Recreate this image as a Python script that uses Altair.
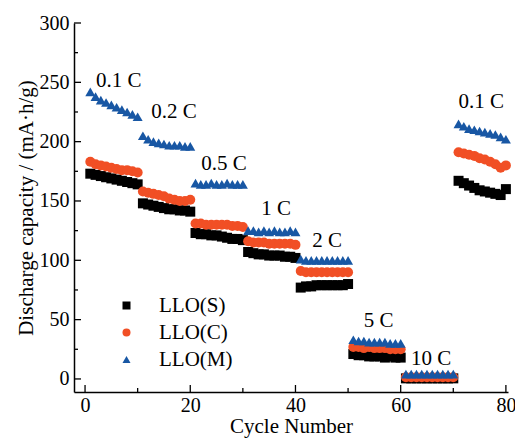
import altair as alt
import pandas as pd

# ---------------- data ----------------
cycles = list(range(1, 81))

llo_s = [173, 172, 171, 170, 169, 168, 167, 166, 165, 164,
         148, 147, 146, 145, 144, 143, 143, 142, 142, 141,
         123, 122, 122, 121, 121, 120, 119, 118, 118, 117,
         107, 106, 105, 105, 104, 104, 104, 103, 103, 102,
         77, 78, 78, 79, 79, 79, 79, 79, 79, 80,
         21, 20, 20, 19, 19, 19, 18, 19, 18, 18,
         0.5, 0.5, 0.5, 0.5, 0.5, 0.5, 0.5, 0.5, 0.5, 0.5,
         167, 165, 163, 161, 159, 158, 157, 156, 155, 160]

llo_c = [183, 181, 180, 179, 178, 177, 176, 176, 175, 174,
         158, 157, 156, 155, 154, 152, 151, 150, 150, 151,
         131, 131, 130, 130, 130, 130, 130, 129, 129, 128,
         116, 115, 115, 115, 114, 114, 114, 114, 114, 113,
         91, 90, 90, 90, 90, 90, 90, 90, 90, 90,
         27, 27, 26, 27, 26, 26, 26, 25, 25, 25,
         1.5, 1.5, 1.5, 1.5, 1.5, 1.5, 1.5, 1.5, 1.5, 1.5,
         191, 190, 189, 188, 186, 185, 183, 181, 178, 180]

llo_m = [242, 238, 235, 233, 231, 229, 227, 225, 223, 221,
         205, 202, 200, 199, 198, 197, 197, 197, 196, 196,
         165, 164, 164, 165, 164, 164, 165, 164, 164, 164,
         125, 125, 124, 125, 124, 125, 124, 124, 125, 124,
         101, 100, 100, 100, 100, 100, 100, 100, 100, 100,
         33, 32, 32, 31, 31, 31, 31, 30, 30, 30,
         4, 4, 4, 4, 4, 4, 4, 4, 4, 4,
         215, 213, 211, 210, 209, 208, 207, 206, 204, 202]

series_names = ["LLO(S)", "LLO(C)", "LLO(M)"]
series_colors = ["#000000", "#F14F25", "#1857A4"]
series_shapes = ["square", "circle", "triangle-up"]

rate_labels = ["0.1 C", "0.2 C", "0.5 C", "1 C", "2 C", "5 C", "10 C", "0.1 C"]
rate_label_x = [6.4, 16.9, 26.4, 36.3, 46.0, 55.8, 65.8, 75.3]
rate_label_y = [251, 225, 181, 143, 116.5, 49, 17, 233]

x_major = [0, 20, 40, 60, 80]
x_minor = [10, 30, 50, 70]
y_major = [0, 50, 100, 150, 200, 250, 300]
y_minor = [25, 75, 125, 175, 225, 275]

X_TITLE = "Cycle Number"
Y_TITLE = "Discharge capacity / (mA\u00b7h/g)"

# ---------------- tables ----------------
rows = []
for name, vals in zip(series_names, [llo_s, llo_c, llo_m]):
    for c, v in zip(cycles, vals):
        rows.append({"cycle": c, "capacity": v, "sample": name})
df = pd.DataFrame(rows)
df_lab = pd.DataFrame({"label": rate_labels, "x": rate_label_x, "y": rate_label_y})

W, H = 434, 369
FONT = "Liberation Serif"
FS = 21

xscale = alt.Scale(domain=[-2.1, 80.4], nice=False, zero=False)
yscale = alt.Scale(domain=[-11, 300], nice=False, zero=False)
xaxis = alt.Axis(values=x_major, format="d", labelPadding=3, titlePadding=0)
yaxis = alt.Axis(values=y_major, format="d", labelPadding=5, titlePadding=3)


def X(field):
    return alt.X(field, scale=xscale, axis=xaxis, title=X_TITLE)


def Y(field):
    return alt.Y(field, scale=yscale, axis=yaxis, title=Y_TITLE)


points = alt.Chart(df).transform_calculate(
    o="datum.sample == 'LLO(S)' ? 0 : (datum.sample == 'LLO(C)' ? 1 : 2)"
).mark_point(filled=True, size=100, opacity=1).encode(
    x=X("cycle:Q"),
    y=Y("capacity:Q"),
    color=alt.Color("sample:N",
                    scale=alt.Scale(domain=series_names, range=series_colors),
                    legend=alt.Legend(orient="none", legendX=42, legendY=272, title=None,
                                      labelFont=FONT, labelFontSize=FS, labelColor="black",
                                      symbolSize=64, rowPadding=5, labelOffset=22,
                                      padding=0, symbolStrokeWidth=0)),
    shape=alt.Shape("sample:N",
                    scale=alt.Scale(domain=series_names, range=series_shapes)),
    order=alt.Order("o:Q"),
)

labels = alt.Chart(df_lab).mark_text(font=FONT, fontSize=FS, color="black",
                                     align="center", baseline="middle").encode(
    x=X("x:Q"),
    y=Y("y:Q"),
    text="label:N",
)


def yticks(vals, length):
    return alt.Chart(pd.DataFrame({"v": vals})).mark_rule(color="black", strokeWidth=1.3).encode(
        y=Y("v:Q"), x=alt.value(0), x2=alt.value(length))


def xticks(vals, length):
    return alt.Chart(pd.DataFrame({"v": vals})).mark_rule(color="black", strokeWidth=1.3).encode(
        x=X("v:Q"), y=alt.value(H), y2=alt.value(H - length))


chart = alt.layer(
    points, labels,
    yticks(y_major, 7), yticks(y_minor, 4), xticks(x_major, 7), xticks(x_minor, 4),
).properties(
    width=W, height=H,
    padding={"left": 66, "top": 15, "right": 7, "bottom": 46},
    autosize=alt.AutoSizeParams(type="none"),
    background="white",
).configure_view(stroke=None).configure_axis(
    grid=False, ticks=False, domainColor="black", domainWidth=1.5,
    labelFont=FONT, labelFontSize=20, labelColor="black",
    titleFont=FONT, titleFontSize=FS, titleColor="black", titleFontWeight="normal",
)

chart.save("out.html", embed_options={"renderer": "svg", "actions": False})
